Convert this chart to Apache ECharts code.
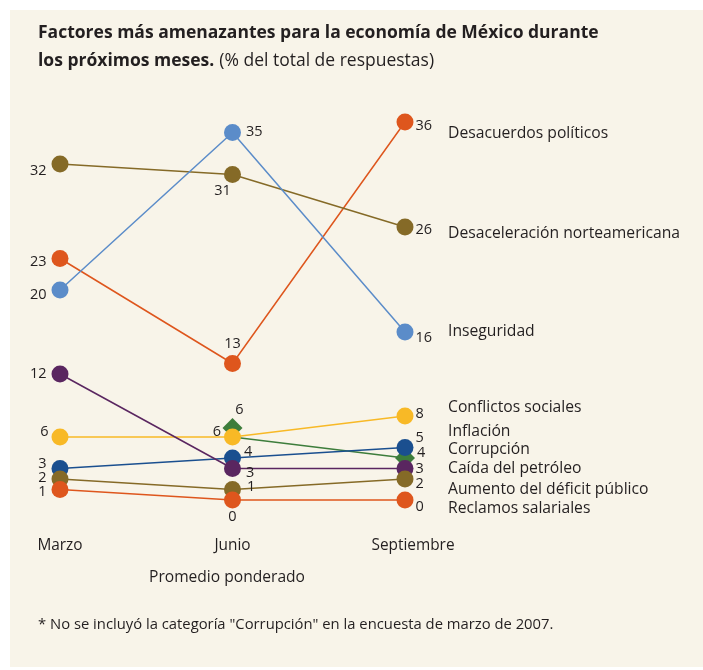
<!DOCTYPE html>
<html><head><meta charset="utf-8">
<script src="https://cdn.jsdelivr.net/npm/echarts@6/dist/echarts.min.js"></script>
<style>html,body{margin:0;padding:0;background:#fff}#c{width:703px;height:670px}</style>
</head><body><div id="c"></div>
<script>
// ---- data ----
const months = ['Marzo', 'Junio', 'Septiembre'];
const desacuerdos = [23, 13, 36];
const desaceleracion = [32, 31, 26];
const inseguridad = [20, 35, 16];
const conflictos = [6, 6, 8];
const inflacion = [3, 4, 5];
const corrupcion = [null, 6, 4];
const caidaPetroleo = [12, 3, 3];
const deficit = [2, 1, 2];
const reclamos = [1, 0, 0];

const seriesNames = ['Desacuerdos políticos', 'Desaceleración norteamericana', 'Inseguridad',
  'Conflictos sociales', 'Inflación', 'Corrupción', 'Caída del petróleo',
  'Aumento del déficit público', 'Reclamos salariales'];
const seriesValues = [desacuerdos, desaceleracion, inseguridad, conflictos, inflacion,
  corrupcion, caidaPetroleo, deficit, reclamos];

// ---- style ----
const FONT = 'Open Sans';
const colors = ['#de561d', '#856a27', '#5b8cc9', '#f8b926', '#1a4f8f', '#3d7d3b', '#5a2660', '#856a27', '#de561d'];
// per point label placement: [position, dx, dy, distance]
const labelCfg = [
  [['left', 0, 3, 5], ['top', 0, 0, 4], ['right', 0, 4, 2]],
  [['left', 0, 7, 5], ['bottom', -10, 0, 0], ['right', 0, 3, 2]],
  [['left', 0, 5, 5], ['right', 0, -1, 5], ['right', 0, 6, 2]],
  [['left', 0, -5, 3], ['left', 0, -5, 3], ['right', 0, -2, 2]],
  [['left', 0, -5, 5], ['right', 0, -6, 3], ['right', 0, -10, 2]],
  [null, ['top', 7, 0, 1], ['right', 0, -5, 2]],
  [['left', 0, 0, 5], ['right', 2, 4, 3], ['right', 0, 0, 2]],
  [['left', 0, -1, 5], ['right', 3, -3, 3], ['right', 0, 5, 2]],
  [['left', 0, 2, 5], ['bottom', 0, 0, 1], ['right', 0, 7, 2]]
];
const nameOffsetY = [12, 7, 0, -8, -16, -8, 0, 11, 9];
const symbols = ['circle', 'circle', 'circle', 'circle', 'circle', 'diamond', 'circle', 'circle', 'circle'];
const drawOrder = [0, 1, 2, 5, 3, 4, 6, 7, 8];
const monthLabelPadLeft = [0, 0, 16];

const series = drawOrder.map(function (i, k) {
  const vals = seriesValues[i];
  return {
    name: seriesNames[i],
    type: 'line',
    z: 2 + k,
    clip: false,
    symbol: symbols[i],
    symbolSize: symbols[i] === 'diamond' ? 20 : 17,
    showAllSymbol: true,
    connectNulls: false,
    animation: false,
    lineStyle: { color: colors[i], width: 1.5 },
    itemStyle: { color: colors[i] },
    data: vals.map(function (v, j) {
      if (v === null) return null;
      const c = labelCfg[i][j];
      const item = {
        value: v,
        label: {
          show: true, position: c[0], offset: [c[1], c[2]], distance: c[3],
          fontFamily: FONT, fontSize: 14.5, color: '#231f20'
        }
      };
      if (symbols[i] === 'diamond' && j === 1) item.symbolOffset = [0, -9];
      return item;
    }),
    endLabel: {
      show: true, formatter: seriesNames[i], distance: 43,
      offset: [0, nameOffsetY[i]],
      fontFamily: FONT, fontSize: 15.7, color: '#231f20'
    }
  };
});

const chart = echarts.init(document.getElementById('c'), null, { renderer: 'canvas' });
chart.setOption({
  backgroundColor: '#ffffff',
  animation: false,
  graphic: [{
    type: 'rect', z: -10, silent: true,
    shape: { x: 10, y: 10, width: 700, height: 657 },
    style: { fill: '#f8f4e9' }
  }],
  title: [{
    left: 38, top: 19, padding: 0,
    text: '{b|Factores más amenazantes para la economía de México durante}\n{b|los próximos meses.} {n|(% del total de respuestas)}',
    textStyle: {
      rich: {
        b: { fontFamily: FONT, fontSize: 17.5, fontWeight: 'bold', color: '#231f20', lineHeight: 28 },
        n: { fontFamily: FONT, fontSize: 17.5, fontWeight: 'normal', color: '#231f20', lineHeight: 28 }
      }
    }
  }, {
    text: 'Promedio ponderado', left: 149, top: 570, padding: 0,
    textStyle: { fontFamily: FONT, fontSize: 15.6, fontWeight: 'normal', color: '#231f20' }
  }, {
    text: '* No se incluyó la categoría "Corrupción" en la encuesta de marzo de 2007.', left: 38, top: 617, padding: 0,
    textStyle: { fontFamily: FONT, fontSize: 14.8, fontWeight: 'normal', color: '#231f20' }
  }],
  grid: { left: 60, right: 298, top: 122, bottom: 170, containLabel: false },
  xAxis: {
    type: 'category', boundaryGap: false,
    data: months.map(function (m, j) {
      return { value: m, textStyle: { padding: [0, 0, 0, monthLabelPadLeft[j]] } };
    }),
    axisLine: { show: false }, axisTick: { show: false }, splitLine: { show: false },
    axisLabel: { margin: 38, fontFamily: FONT, fontSize: 15.4, color: '#231f20' }
  },
  yAxis: {
    type: 'value', min: 0, max: 36, show: false, splitLine: { show: false }
  },
  series: series
});
</script>
</body></html>
